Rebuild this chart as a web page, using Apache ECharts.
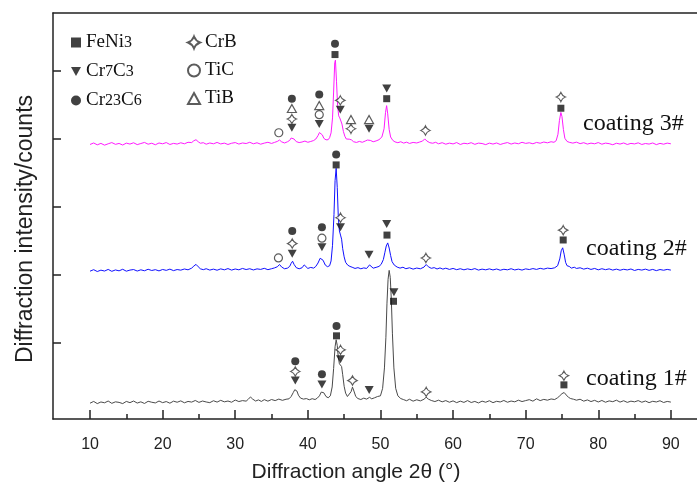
<!DOCTYPE html>
<html>
<head>
<meta charset="utf-8">
<script src="https://cdn.jsdelivr.net/npm/echarts@6/dist/echarts.min.js"></script>
<style>
  html, body { margin: 0; padding: 0; background: #fff; }
  #chart { width: 697px; height: 488px; }
</style>
</head>
<body>
<div id="chart"></div>
<script>
// XRD patterns of three coatings: [2θ (°), intensity (counts, stacked offset)]
const coating1 = [
  [10.0,232],[10.5,258],[11.0,226],[11.5,250],[12.0,238],[12.5,264],[13.0,230],[13.5,252],[14.0,244],[14.5,226],
  [15.0,258],[15.5,240],[16.0,264],[16.5,234],[17.0,252],[17.5,228],[18.0,260],[18.5,246],[19.0,236],[19.5,264],
  [20.0,240],[20.5,256],[21.0,232],[21.5,262],[22.0,246],[22.5,266],[23.0,238],[23.5,258],[24.0,248],[24.5,272],
  [25.0,244],[25.5,264],[26.0,250],[26.5,240],[27.0,268],[27.5,248],[28.0,274],[28.5,252],[29.0,264],[29.5,246],
  [30.0,278],[30.5,256],[31.0,270],[31.5,262],[31.8,290],[32.1,324],[32.4,292],[32.8,264],[33.2,280],[33.6,258],
  [34.0,284],[34.5,262],[35.0,286],[35.5,270],[36.0,292],[36.5,274],[37.0,290],[37.4,296],[37.7,330],[38.0,390],
  [38.2,430],[38.35,440],[38.5,410],[38.7,350],[39.0,306],[39.4,292],[39.8,300],[40.2,282],[40.6,298],[41.0,286],
  [41.3,306],[41.6,340],[41.85,395],[42.0,410],[42.2,385],[42.5,330],[42.8,312],[43.1,340],[43.35,470],[43.55,740],
  [43.75,1060],[43.9,1163],[44.05,1080],[44.2,900],[44.35,810],[44.5,795],[44.65,770],[44.8,650],[45.0,480],[45.2,380],
  [45.45,330],[45.7,340],[45.95,400],[46.15,468],[46.35,410],[46.6,330],[46.9,300],[47.3,286],[47.7,306],[48.1,292],
  [48.5,318],[48.8,296],[49.2,312],[49.6,330],[50.0,340],[50.3,450],[50.55,750],[50.75,1200],[50.9,1700],[51.05,2050],
  [51.2,2182],[51.35,2080],[51.5,1750],[51.65,1250],[51.85,750],[52.1,450],[52.4,340],[52.8,300],[53.2,284],[53.6,268],
  [54.0,290],[54.5,262],[55.0,282],[55.5,266],[56.0,290],[56.3,320],[56.6,292],[57.0,272],[57.5,256],[58.0,276],
  [58.5,252],[59.0,270],[59.5,246],[60.0,266],[60.5,240],[61.0,262],[61.5,244],[62.0,270],[62.5,242],[63.0,258],
  [63.5,236],[64.0,262],[64.5,246],[65.0,268],[65.5,240],[66.0,260],[66.5,250],[67.0,272],[67.5,246],[68.0,264],
  [68.5,252],[69.0,276],[69.5,256],[70.0,270],[70.5,284],[71.0,262],[71.5,296],[72.0,270],[72.5,288],[73.0,276],
  [73.5,294],[74.0,286],[74.4,312],[74.7,340],[75.0,372],[75.3,389],[75.6,352],[75.9,318],[76.2,300],[76.6,290],
  [77.0,276],[77.5,290],[78.0,262],[78.5,280],[79.0,256],[79.5,274],[80.0,250],[80.5,272],[81.0,246],[81.5,266],
  [82.0,254],[82.5,276],[83.0,248],[83.5,268],[84.0,244],[84.5,262],[85.0,252],[85.5,270],[86.0,246],[86.5,264],
  [87.0,240],[87.5,260],[88.0,250],[88.5,268],[89.0,242],[89.5,258],[90.0,248]
];
const coating2 = [
  [10.0,2170],[10.5,2192],[11.0,2165],[11.5,2185],[12.0,2172],[12.5,2196],[13.0,2168],[13.5,2188],[14.0,2175],[14.5,2198],
  [15.0,2170],[15.5,2186],[16.0,2194],[16.5,2172],[17.0,2190],[17.5,2176],[18.0,2198],[18.5,2180],[19.0,2192],[19.5,2174],
  [20.0,2195],[20.5,2182],[21.0,2200],[21.5,2178],[22.0,2194],[22.5,2185],[23.0,2202],[23.5,2190],[24.0,2215],[24.3,2245],
  [24.6,2270],[24.9,2235],[25.2,2205],[25.6,2192],[26.0,2206],[26.5,2186],[27.0,2200],[27.5,2184],[28.0,2204],[28.5,2190],
  [29.0,2208],[29.5,2186],[30.0,2202],[30.5,2190],[31.0,2210],[31.5,2194],[32.0,2206],[32.5,2188],[33.0,2204],[33.5,2196],
  [34.0,2212],[34.5,2192],[35.0,2206],[35.4,2218],[35.8,2235],[36.1,2268],[36.4,2230],[36.8,2205],[37.2,2215],[37.5,2240],
  [37.7,2285],[37.9,2316],[38.1,2270],[38.4,2222],[38.8,2205],[39.2,2220],[39.5,2262],[39.7,2240],[40.0,2210],[40.4,2225],
  [40.8,2215],[41.1,2240],[41.4,2290],[41.7,2360],[41.9,2388],[42.1,2330],[42.4,2260],[42.7,2236],[43.0,2250],[43.2,2320],
  [43.4,2550],[43.6,3000],[43.75,3500],[43.9,3680],[44.05,3400],[44.2,2950],[44.35,2760],[44.5,2700],[44.65,2640],[44.8,2500],
  [45.0,2380],[45.2,2300],[45.5,2258],[45.8,2240],[46.1,2228],[46.5,2210],[46.9,2222],[47.3,2205],[47.7,2218],[48.1,2210],
  [48.5,2262],[48.7,2236],[49.0,2214],[49.4,2226],[49.8,2240],[50.1,2270],[50.4,2340],[50.6,2440],[50.8,2540],[51.0,2585],
  [51.2,2510],[51.4,2400],[51.6,2310],[51.9,2260],[52.3,2230],[52.7,2215],[53.1,2228],[53.5,2206],[54.0,2220],[54.5,2200],
  [55.0,2216],[55.5,2205],[56.0,2230],[56.3,2268],[56.6,2235],[57.0,2212],[57.4,2222],[57.8,2202],[58.2,2218],[58.6,2200],
  [59.0,2214],[59.5,2196],[60.0,2210],[60.5,2192],[61.0,2206],[61.5,2190],[62.0,2204],[62.5,2192],[63.0,2208],[63.5,2186],
  [64.0,2200],[64.5,2190],[65.0,2204],[65.5,2188],[66.0,2202],[66.5,2184],[67.0,2198],[67.5,2190],[68.0,2206],[68.5,2188],
  [69.0,2200],[69.5,2186],[70.0,2204],[70.5,2194],[71.0,2208],[71.5,2196],[72.0,2212],[72.5,2200],[73.0,2215],[73.5,2208],
  [74.0,2220],[74.4,2250],[74.7,2350],[74.9,2470],[75.1,2513],[75.3,2420],[75.5,2300],[75.7,2250],[76.0,2240],[76.3,2215],
  [76.7,2228],[77.0,2210],[77.5,2220],[78.0,2200],[78.5,2214],[79.0,2196],[79.5,2210],[80.0,2190],[80.5,2206],[81.0,2192],
  [81.5,2204],[82.0,2186],[82.5,2200],[83.0,2184],[83.5,2198],[84.0,2188],[84.5,2202],[85.0,2180],[85.5,2196],[86.0,2186],
  [86.5,2200],[87.0,2182],[87.5,2196],[88.0,2178],[88.5,2194],[89.0,2184],[89.5,2196],[90.0,2186]
];
const coating3 = [
  [10.0,4030],[10.5,4052],[11.0,4025],[11.5,4046],[12.0,4020],[12.5,4040],[13.0,4058],[13.5,4032],[14.0,4045],[14.5,4022],
  [15.0,4050],[15.5,4036],[16.0,4055],[16.5,4028],[17.0,4044],[17.5,4060],[18.0,4034],[18.5,4048],[19.0,4026],[19.5,4052],
  [20.0,4040],[20.5,4058],[21.0,4030],[21.5,4046],[22.0,4036],[22.5,4055],[23.0,4040],[23.5,4062],[24.0,4058],[24.3,4085],
  [24.6,4100],[24.9,4070],[25.2,4048],[25.6,4056],[26.0,4034],[26.5,4052],[27.0,4040],[27.5,4060],[28.0,4038],[28.5,4050],
  [29.0,4030],[29.5,4048],[30.0,4058],[30.5,4036],[31.0,4052],[31.5,4044],[32.0,4062],[32.5,4040],[33.0,4055],[33.5,4034],
  [34.0,4050],[34.5,4062],[35.0,4045],[35.4,4060],[35.8,4075],[36.1,4095],[36.4,4068],[36.8,4052],[37.2,4070],[37.5,4090],
  [37.7,4125],[37.9,4140],[38.1,4110],[38.4,4072],[38.8,4058],[39.2,4066],[39.6,4080],[40.0,4062],[40.4,4074],[40.8,4088],
  [41.1,4110],[41.4,4160],[41.6,4205],[41.8,4212],[42.0,4170],[42.2,4120],[42.5,4098],[42.8,4100],[43.0,4130],[43.2,4200],
  [43.4,4420],[43.55,4800],[43.7,5230],[43.8,5268],[43.95,4950],[44.1,4600],[44.25,4450],[44.4,4420],[44.55,4428],[44.7,4330],
  [44.9,4220],[45.1,4150],[45.3,4110],[45.5,4100],[45.7,4108],[45.85,4115],[46.0,4098],[46.3,4070],[46.7,4060],[47.1,4075],
  [47.5,4062],[47.9,4080],[48.2,4095],[48.4,4112],[48.6,4090],[49.0,4070],[49.4,4082],[49.8,4100],[50.2,4140],[50.5,4260],
  [50.7,4500],[50.85,4600],[51.0,4480],[51.2,4250],[51.4,4140],[51.7,4090],[52.0,4068],[52.4,4056],[52.8,4070],[53.2,4050],
  [53.6,4064],[54.0,4045],[54.5,4060],[55.0,4052],[55.4,4066],[55.8,4080],[56.1,4112],[56.4,4080],[56.8,4056],[57.2,4048],
  [57.6,4062],[58.0,4040],[58.5,4056],[59.0,4034],[59.5,4050],[60.0,4038],[60.5,4058],[61.0,4030],[61.5,4048],[62.0,4040],
  [62.5,4056],[63.0,4032],[63.5,4050],[64.0,4044],[64.5,4028],[65.0,4050],[65.5,4036],[66.0,4052],[66.5,4030],[67.0,4046],
  [67.5,4058],[68.0,4036],[68.5,4052],[69.0,4040],[69.5,4062],[70.0,4046],[70.5,4055],[71.0,4040],[71.5,4060],[72.0,4048],
  [72.5,4066],[73.0,4054],[73.5,4070],[73.9,4062],[74.2,4085],[74.45,4180],[74.65,4380],[74.85,4500],[75.0,4440],[75.2,4250],
  [75.4,4120],[75.7,4075],[76.0,4062],[76.5,4050],[77.0,4064],[77.5,4042],[78.0,4056],[78.5,4036],[79.0,4050],[79.5,4040],
  [80.0,4058],[80.5,4034],[81.0,4050],[81.5,4042],[82.0,4026],[82.5,4048],[83.0,4036],[83.5,4052],[84.0,4030],[84.5,4046],
  [85.0,4038],[85.5,4054],[86.0,4030],[86.5,4044],[87.0,4036],[87.5,4052],[88.0,4028],[88.5,4046],[89.0,4034],[89.5,4050],
  [90.0,4040]
];

// Phase identification marks: [2θ, height of the mark]
const feNi3Marks = [[43.74,5350],[50.86,4702],[74.85,4562],[43.9,3730],[50.9,2700],[75.17,2628],[43.95,1221],[51.8,1728],[75.27,501]];
const cr7c3Marks = [[37.8,4274],[41.57,4332],[44.47,4539],[48.43,4260],[50.86,4850],
                    [37.85,2426],[41.94,2523],[44.5,2816],[48.43,2412],[50.86,2864],
                    [38.27,564],[41.94,507],[44.5,876],[48.45,426],[51.86,1860]];
const cr23c6Marks = [[37.8,4702],[41.57,4764],[43.74,5508],[37.85,2758],[41.94,2816],[43.9,3881],[38.27,848],[41.94,656],[43.95,1365]];
const crBMarks = [[37.8,4404],[44.47,4677],[45.94,4260],[56.2,4236],[74.85,4726],
                  [37.85,2575],[44.5,2955],[56.26,2364],[75.17,2772],
                  [38.27,698],[44.5,1015],[46.15,564],[56.3,398],[75.27,636]];
const tiCMarks = [[36.0,4202],[41.57,4467],[35.95,2364],[41.94,2655]];
const tiBMarks = [[37.8,4558],[41.57,4601],[45.94,4395],[48.43,4395]];

const xMajorTicks = [10, 20, 30, 40, 50, 60, 70, 80, 90];
const xMinorTicks = [15, 25, 35, 45, 55, 65, 75, 85];
const yTicks = [1115, 2115, 3115, 4115, 5115];

const sampleNames = ['coating 1#', 'coating 2#', 'coating 3#'];
const sampleColors = ['#4a4a4a', '#1010ff', '#ff1aff'];

// Axis span: the frame runs past the right edge of the canvas
const xMin = 4.9, xMax = 93.6;

const starPath = 'path://M5,0 Q6.4,3.6 10,5 Q6.4,6.4 5,10 Q3.6,6.4 0,5 Q3.6,3.6 5,0 Z';
const downTriangle = 'path://M0,0 L10,0 L5,9 Z';
const upTriangle = 'path://M5,0 L10,9 L0,9 Z';

const ink = '#111';
const hollow = { color: '#fff', borderColor: '#333', borderWidth: 1.2 };
const frame = { color: '#222', width: 1.5 };

const chart = echarts.init(document.getElementById('chart'));

function lineSeries(data, color) {
  return {
    type: 'line', data: data, symbol: 'none', xAxisIndex: 0, yAxisIndex: 0,
    lineStyle: { color: color, width: 1 }, silent: true, z: 2
  };
}
function markSeries(name, data, symbol, size, style) {
  return {
    type: 'scatter', name: name, data: data, symbol: symbol, symbolSize: size,
    itemStyle: style, z: 5, xAxisIndex: 0, yAxisIndex: 0
  };
}

function formulaText(name) {
  return name.replace(/([A-Za-z]+)|(\d+)/g, function (m, a, d) {
    return a ? '{n|' + a + '}' : '{s|' + d + '}';
  });
}
const legendText = {
  rich: {
    n: { fontFamily: 'Liberation Serif', fontSize: 19, color: ink },
    s: { fontFamily: 'Liberation Serif', fontSize: 16, color: ink }
  }
};
const tickFont = { fontFamily: 'Liberation Sans', fontSize: 16, color: '#222' };

chart.setOption({
  animation: false,
  backgroundColor: '#fff',
  grid: { left: 53, top: 13, right: 0, bottom: 60, show: false },
  legend: [
    { data: ['FeNi3', 'Cr7C3', 'Cr23C6'], orient: 'vertical', left: 66, top: 28, itemWidth: 10, itemHeight: 10,
      itemGap: 10, formatter: formulaText, textStyle: legendText },
    { data: ['CrB', 'TiC', 'TiB'], orient: 'vertical', left: 182, top: 28, itemWidth: 12, itemHeight: 12,
      itemGap: 9, formatter: formulaText, textStyle: legendText }
  ],
  xAxis: [
    { type: 'value', min: xMin, max: xMax, position: 'bottom',
      name: 'Diffraction angle 2θ (°)', nameLocation: 'middle', nameGap: 43,
      nameTextStyle: { fontFamily: 'Liberation Sans', fontSize: 21, color: '#222', padding: [0, 38, 0, 0] },
      axisLine: { show: true, lineStyle: frame },
      axisTick: { show: true, inside: true, length: 9, customValues: xMajorTicks, lineStyle: frame },
      axisLabel: { show: true, customValues: xMajorTicks, margin: 18, ...tickFont },
      splitLine: { show: false } },
    { type: 'value', min: xMin, max: xMax, position: 'bottom',
      axisLine: { show: false },
      axisTick: { show: true, inside: true, length: 5, customValues: xMinorTicks, lineStyle: frame },
      axisLabel: { show: false }, splitLine: { show: false } },
    { type: 'value', min: xMin, max: xMax, position: 'top',
      axisLine: { show: true, lineStyle: frame },
      axisTick: { show: false }, axisLabel: { show: false }, splitLine: { show: false } }
  ],
  yAxis: {
    type: 'value', min: 0, max: 5960,
    name: 'Diffraction intensity/counts', nameLocation: 'middle', nameGap: 16,
    nameTextStyle: { fontFamily: 'Liberation Sans', fontSize: 23, color: '#222', padding: [0, 26, 0, 0] },
    axisLine: { show: true, lineStyle: frame },
    axisTick: { show: true, inside: true, length: 8, customValues: yTicks, lineStyle: frame },
    axisLabel: { show: false }, splitLine: { show: false }
  },
  series: [
    lineSeries(coating1, sampleColors[0]),
    lineSeries(coating2, sampleColors[1]),
    lineSeries(coating3, sampleColors[2]),
    markSeries('FeNi3', feNi3Marks, 'rect', 7, { color: ink }),
    markSeries('Cr7C3', cr7c3Marks, downTriangle, [9, 8], { color: ink }),
    markSeries('Cr23C6', cr23c6Marks, 'circle', 8, { color: ink }),
    markSeries('CrB', crBMarks, starPath, 9, hollow),
    markSeries('TiC', tiCMarks, 'circle', 8, hollow),
    markSeries('TiB', tiBMarks, upTriangle, [9, 8], hollow)
  ],
  graphic: [
    { type: 'text', left: 583, top: 112, style: { text: sampleNames[2], font: '24px "Liberation Serif"', fill: ink } },
    { type: 'text', left: 586, top: 237, style: { text: sampleNames[1], font: '24px "Liberation Serif"', fill: ink } },
    { type: 'text', left: 586, top: 367, style: { text: sampleNames[0], font: '24px "Liberation Serif"', fill: ink } }
  ]
});
</script>
</body>
</html>
